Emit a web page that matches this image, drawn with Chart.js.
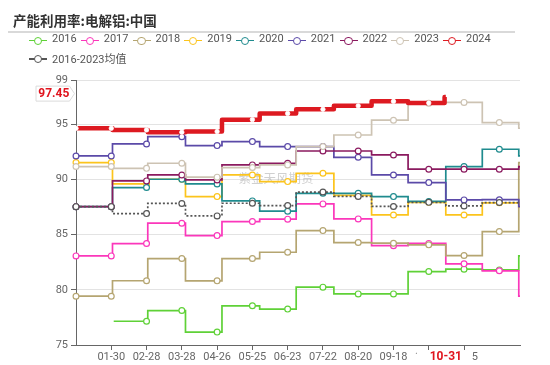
<!DOCTYPE html>
<html>
<head>
<meta charset="utf-8">
<script src="https://cdn.jsdelivr.net/npm/chart.js@4.4.1/dist/chart.umd.min.js"></script>
<style>
  html, body { margin: 0; padding: 0; background: #fff; }
  #wrap { position: relative; width: 550px; height: 365px; overflow: hidden; }
  #chart { position: absolute; left: 0; top: 0; }
  .title { position: absolute; left: 13px; top: 10px; line-height: 18px; font: bold 13.5px 'Noto Sans CJK SC', sans-serif; color: #333; }
  .rule { position: absolute; left: 8px; top: 31px; width: 507px; height: 2px; background: #d9d9d9; }
  .item { position: absolute; height: 18px; white-space: nowrap; }
  .item .ln { position: absolute; left: 0; top: 8.3px; width: 18px; height: 1.4px; }
  .item .dot { position: absolute; left: 4.8px; top: 4.8px; width: 8.4px; height: 8.4px; box-sizing: border-box; border: 1.4px solid; border-radius: 50%; background: #fff; }
  .item .txt { position: absolute; left: 23px; top: 0; line-height: 18px; font: 11px Roboto, 'Noto Sans CJK SC', sans-serif; color: #555; }
</style>
</head>
<body>
<div id="wrap">
  <canvas id="chart" width="550" height="365"></canvas>
  <div class="title">产能利用率:电解铝:中国</div>
  <div class="rule"></div>
  <div id="legend"></div>
</div>
<script>
// ==========================================
// 1. DATA (monthly utilisation, %)
// ==========================================
const monthDays = [31, 29, 31, 30, 31, 30, 31, 31, 30, 31, 30, 31];

const y2016 = [null, 77.15, 78.12, 76.17, 78.55, 78.25, 80.24, 79.63, 79.63, 81.65, 81.87, 81.80];
const y2017 = [83.07, 84.19, 86.03, 84.91, 86.18, 86.40, 87.78, 86.42, 84.00, 84.20, 82.35, 81.72];
const y2018 = [79.42, 80.82, 82.83, 80.81, 82.83, 83.40, 85.36, 84.28, 84.22, 84.07, 83.10, 85.27];
const y2019 = [91.52, 89.59, 90.01, 88.44, 90.40, 89.80, 90.55, 88.55, 86.78, 87.92, 86.78, 87.88];
const y2020 = [87.53, 89.26, 90.01, 89.59, 88.05, 87.12, 88.74, 88.74, 88.44, 88.00, 91.16, 92.73];
const y2021 = [92.12, 93.21, 93.87, 93.06, 93.42, 92.97, 92.97, 92.00, 90.40, 89.71, 88.14, 88.16];
const y2022 = [87.53, 89.86, 90.40, 89.95, 91.31, 91.46, 92.57, 92.57, 92.21, 90.92, 90.92, 90.92];
const y2023 = [91.16, 91.00, 91.46, 90.20, 91.07, 91.31, 92.97, 94.02, 95.36, 96.90, 96.97, 95.14];
const y2024 = [94.63, 94.48, 94.27, 94.33, 95.41, 95.97, 96.35, 96.66, 97.07, 96.92];
const y2024Latest = 97.45;   // value shown on the last day (10-31)
const lastDay2024 = '10-31';
const avg1623 = [87.53, 86.90, 87.82, 86.69, 87.84, 87.63, 88.85, 88.46, 87.55, 87.92, 87.60, 87.90];

const xTickLabels = ['01-30', '02-28', '03-28', '04-26', '05-25', '06-23', '07-22', '08-20', '09-18', '10-17', '11-15'];
const yTicks = [75, 80, 85, 90, 95, 99];
const markerEvery = 29;

const names  = ['2016', '2017', '2018', '2019', '2020', '2021', '2022', '2023', '2024', '2016-2023均值'];
const colors = ['#5fd137', '#fb37bb', '#b5a571', '#fcc41c', '#1f8b8e', '#5b4aa8', '#8b1a5f', '#cdc3b3', '#dd1a21', '#555555'];

// ==========================================
// 2. DAILY TABLE FOR THE CATEGORY AXIS
// ==========================================
const pad2 = n => String(n).padStart(2, '0');
const days = [];
const dayMonth = [];
monthDays.forEach((n, m) => {
    for (let d = 1; d <= n; d++) {
        days.push(pad2(m + 1) + '-' + pad2(d));
        dayMonth.push(m);
    }
});

// each day carries its month's value; the last day shows the next period
function toDaily(monthly, nextValue, lastIdx) {
    const end = lastIdx === undefined ? days.length - 1 : lastIdx;
    const out = [];
    for (let i = 0; i < end; i++) out.push(monthly[dayMonth[i]]);
    out.push(nextValue);
    return out;
}

const lastIdx2024 = days.indexOf(lastDay2024);
const dailySets = [
    toDaily(y2016, y2017[0]),
    toDaily(y2017, y2018[0]),
    toDaily(y2018, y2019[0]),
    toDaily(y2019, y2020[0]),
    toDaily(y2020, y2021[0]),
    toDaily(y2021, y2022[0]),
    toDaily(y2022, y2023[0]),
    toDaily(y2023, y2024[0]),
    toDaily(y2024, y2024Latest, lastIdx2024),
    toDaily(avg1623, avg1623[11])
];

// ==========================================
// 3. HTML LEGEND
// ==========================================
const legendEl = document.getElementById('legend');
names.forEach((name, i) => {
    const row = i < 9 ? 0 : 1;
    const col = i < 9 ? i : 0;
    const item = document.createElement('div');
    item.className = 'item';
    item.style.left = (29 + col * 51.75) + 'px';
    item.style.top = (31.8 + row * 18.4) + 'px';
    item.innerHTML = '<span class="ln" style="background:' + colors[i] + '"></span>' +
        '<span class="dot" style="border-color:' + colors[i] + '"></span>' +
        '<span class="txt">' + name + '</span>';
    legendEl.appendChild(item);
});

// ==========================================
// 4. CHART
// ==========================================
const FONT = "Roboto, 'Noto Sans CJK SC', sans-serif";

const overlayPlugin = {
    id: 'overlay',
    beforeDatasetsDraw(chart) {
        const ctx = chart.ctx;
        const a = chart.chartArea;
        ctx.save();
        ctx.font = "12.5px 'Noto Sans CJK SC', sans-serif";
        ctx.fillStyle = 'rgba(150,150,150,0.45)';
        ctx.textAlign = 'center';
        ctx.textBaseline = 'middle';
        ctx.fillText('紫金天风期货', a.left + 200, a.top + 98);
        ctx.restore();
    },
    afterDraw(chart) {
        const ctx = chart.ctx;
        const xs = chart.scales.x, ys = chart.scales.y;
        ctx.save();
        // y pointer label
        const py = ys.getPixelForValue(y2024Latest) - 3.5;
        const r = xs.left - 1.5, l = xs.left - 40;
        ctx.beginPath();
        ctx.moveTo(l, py - 7.5);
        ctx.lineTo(r - 5, py - 7.5);
        ctx.lineTo(r, py);
        ctx.lineTo(r - 5, py + 7.5);
        ctx.lineTo(l, py + 7.5);
        ctx.closePath();
        ctx.fillStyle = '#fff';
        ctx.fill();
        ctx.strokeStyle = '#dcdcdc';
        ctx.lineWidth = 1;
        ctx.stroke();
        ctx.fillStyle = '#e0141e';
        ctx.font = 'bold 12px ' + FONT;
        ctx.textAlign = 'center';
        ctx.textBaseline = 'middle';
        ctx.fillText(String(y2024Latest), (l + r - 5) / 2 + 1, py + 0.5);
        // x pointer label
        const px = xs.getPixelForValue(lastIdx2024);
        ctx.fillStyle = '#fff';
        ctx.fillRect(px - 29, ys.bottom + 5.5, 55, 16);
        ctx.fillStyle = '#e0141e';
        ctx.font = 'bold 12px ' + FONT;
        ctx.fillText(lastDay2024, px, ys.bottom + 11.5);
        ctx.restore();
    }
};

const datasets = dailySets.map((data, i) => {
    const isRed = i === 8;
    const isAvg = i === 9;
    return {
        label: names[i],
        data: data,
        borderColor: colors[i],
        borderWidth: isRed ? 4.5 : 1.7,
        borderDash: isAvg ? [2, 2] : [],
        borderJoinStyle: isRed ? 'round' : 'miter',
        stepped: 'after',
        fill: false,
        spanGaps: false,
        order: 10 - i,
        pointRadius: ctx => (ctx.dataIndex % markerEvery === 0 ? (isRed ? 2.2 : 2.9) : 0),
        pointHoverRadius: 0,
        pointBackgroundColor: '#fff',
        pointBorderColor: isRed ? '#fff' : colors[i],
        pointBorderWidth: isRed ? 0.8 : 1.2
    };
});

new Chart(document.getElementById('chart'), {
    type: 'line',
    data: { labels: days, datasets: datasets },
    options: {
        responsive: false,
        animation: false,
        events: [],
        devicePixelRatio: 1,
        layout: { padding: { left: 0, right: 30, top: 80, bottom: 0 } },
        plugins: { legend: { display: false }, tooltip: { enabled: false } },
        scales: {
            x: {
                offset: false,
                grid: { display: true, drawOnChartArea: false, drawTicks: true, tickLength: 5, tickColor: '#666' },
                border: { display: true, color: '#666', width: 1 },
                ticks: { autoSkip: false, maxRotation: 0, minRotation: 0, padding: 1, color: '#666', font: { size: 11, family: FONT } },
                afterBuildTicks: s => { s.ticks = s.ticks.filter(t => xTickLabels.includes(days[t.value])); },
                afterFit: s => { s.height = 20; }
            },
            y: {
                min: yTicks[0],
                max: yTicks[yTicks.length - 1],
                afterBuildTicks: s => { s.ticks = yTicks.map(v => ({ value: v })); },
                grid: { color: '#e3e3e3', tickColor: '#666', tickLength: 5, drawTicks: true },
                border: { display: true, color: '#666', width: 1 },
                ticks: { padding: 3, color: '#666', font: { size: 11, family: FONT } },
                afterFit: s => { s.width = 76; }
            }
        }
    },
    plugins: [overlayPlugin]
});
</script>
</body>
</html>
